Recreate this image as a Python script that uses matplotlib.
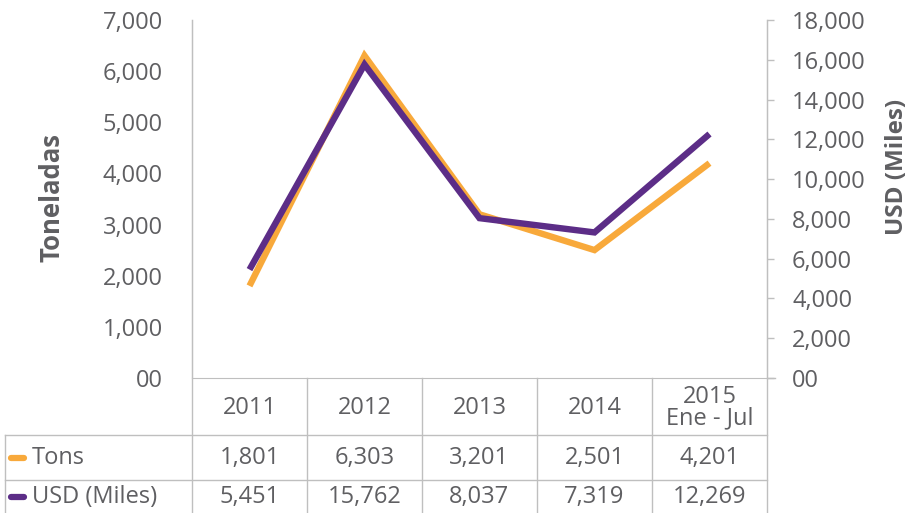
"""
Toneladas vs USD (Miles), 2011 - 2015 (Ene - Jul), line chart with data table.
"""

import matplotlib
matplotlib.use("Agg")
import matplotlib.pyplot as plt
from matplotlib import transforms
from matplotlib.ticker import FuncFormatter, MultipleLocator

years = ["2011", "2012", "2013", "2014", "2015\nEne - Jul"]
tons = [1801, 6303, 3201, 2501, 4201]
usd_miles = [5451, 15762, 8037, 7319, 12269]
series_names = ["Tons", "USD (Miles)"]

ORANGE = "#F8A93B"
PURPLE = "#5C2D87"
TEXT = "#5F5F62"
GRID = "#BFBFBF"
FONT = "Open Sans"
FS = 17


def fmt(v, _pos=None):
    return "00" if v == 0 else f"{v:,.0f}"


def main() -> None:
    plt.rcParams["font.family"] = [FONT, "DejaVu Sans"]

    fig = plt.figure(figsize=(9.08, 5.13), dpi=100)
    W, H = 908.0, 513.0
    left_px, right_px, top_px, bottom_px = 192, 767, 20, 378
    ax = fig.add_axes([left_px / W, (H - bottom_px) / H,
                       (right_px - left_px) / W, (bottom_px - top_px) / H])
    ax2 = ax.twinx()

    x = list(range(len(years)))
    ax.plot(x, tons, color=ORANGE, lw=4.6, solid_joinstyle="miter",
            solid_capstyle="butt", zorder=2)
    ax2.plot(x, usd_miles, color=PURPLE, lw=4.6, solid_joinstyle="miter",
             solid_capstyle="butt", zorder=3)

    ax.set_xlim(-0.5, len(years) - 0.5)
    ax.set_ylim(0, 7000)
    ax2.set_ylim(0, 18000)
    ax.yaxis.set_major_locator(MultipleLocator(1000))
    ax2.yaxis.set_major_locator(MultipleLocator(2000))
    ax.yaxis.set_major_formatter(FuncFormatter(fmt))
    ax2.yaxis.set_major_formatter(FuncFormatter(fmt))
    ax.set_xticks([])

    for a in (ax, ax2):
        for s in a.spines.values():
            s.set_visible(False)
    ax.spines["bottom"].set_visible(True)
    ax.spines["bottom"].set_color(GRID)
    ax.spines["left"].set_visible(True)
    ax.spines["left"].set_color(GRID)
    ax2.spines["right"].set_visible(True)
    ax2.spines["right"].set_color(GRID)

    ax.tick_params(axis="y", length=0, pad=21, labelsize=FS, labelcolor=TEXT)
    ax2.tick_params(axis="y", length=5, width=1, color=GRID, pad=13,
                    labelsize=FS, labelcolor=TEXT)

    span = bottom_px - top_px
    width = right_px - left_px
    ax.set_ylabel("Toneladas", fontsize=18.5, fontweight="bold", color=TEXT)
    ax.yaxis.set_label_coords((52 - left_px) / width, 0.503)
    ax.yaxis.label.set_verticalalignment("center")
    ax2.set_ylabel("USD (Miles)", fontsize=17.5, fontweight="bold",
                   color=TEXT, rotation=90)
    ax2.yaxis.set_label_coords((897 - left_px) / width, 0.589)
    ax2.yaxis.label.set_verticalalignment("center")

    # data table below the plot
    y_head = (bottom_px - 435) / span
    y_row = (bottom_px - 480) / span
    y_end = (bottom_px - 513) / span
    x_first = (5 - left_px) / width
    trans = transforms.blended_transform_factory(ax.transData, ax.transAxes)

    line_kw = dict(color=GRID, lw=1, clip_on=False, zorder=1)
    ax.plot([0, 0], [1, y_end], transform=ax.transAxes, **line_kw)
    ax.plot([1, 1], [1, y_end], transform=ax.transAxes, **line_kw)
    ax.plot([1, 1.014], [0, 0], transform=ax.transAxes, **line_kw)
    for b in [i + 0.5 for i in x[:-1]]:
        ax.plot([b, b], [0, y_end], transform=trans, **line_kw)
    for yy in (y_head, y_row):
        ax.plot([x_first, 1], [yy, yy], transform=ax.transAxes, **line_kw)
    ax.plot([x_first, x_first], [y_head, y_end], transform=ax.transAxes,
            **line_kw)

    for xi, label in zip(x, years):
        ax.text(xi, (bottom_px - 408) / span, label, transform=trans,
                ha="center", va="center", fontsize=FS, color=TEXT,
                linespacing=0.85)

    rows = [tons, usd_miles]
    colors = [ORANGE, PURPLE]
    row_y = [(bottom_px - 458) / span, (bottom_px - 497) / span]
    for name, vals, c, yy in zip(series_names, rows, colors, row_y):
        fy = (H - (bottom_px - yy * span)) / H
        ax.plot([11 / W, 24 / W], [fy, fy], transform=fig.transFigure,
                color=c, lw=4.5, solid_capstyle="round", clip_on=False)
        ax.text(32 / W, fy, name, transform=fig.transFigure, ha="left",
                va="center", fontsize=FS, color=TEXT)
        for xi, v in zip(x, vals):
            ax.text(xi, yy, fmt(v), transform=trans, ha="center",
                    va="center", fontsize=FS, color=TEXT)

    fig.savefig("out.png", dpi=100)


if __name__ == "__main__":
    main()
